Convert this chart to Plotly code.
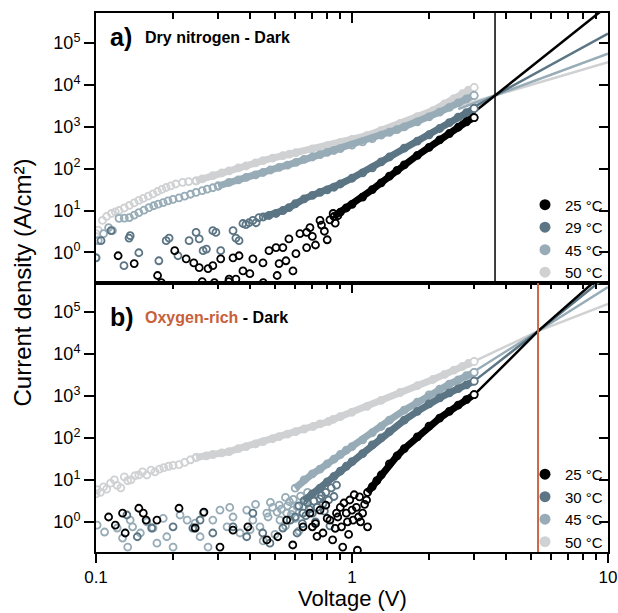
import plotly.graph_objects as go

# ---------------- data : (a) Dry nitrogen - Dark ----------------
top50_sc_V = [0.100, 0.102, 0.106, 0.110, 0.115, 0.119, 0.123, 0.129, 0.135, 0.141, 0.147, 0.153, 0.160, 0.167, 0.174, 0.181, 0.188, 0.196, 0.205, 0.218, 0.23, 0.246]
top50_sc_J = [2.8, 3.4, 5.8, 7.2, 8.5, 9.3, 10, 11.5, 13.2, 15.2, 17.4, 19.5, 22, 25, 28.5, 32, 35.5, 39, 43, 47, 49, 51]
top50_band_V = [0.246, 0.26, 0.286, 0.31, 0.331, 0.36, 0.386, 0.42, 0.449, 0.49, 0.537, 0.57, 0.604, 0.70, 0.80, 0.90, 1.0, 1.14, 1.3, 1.54, 1.8, 2.07, 2.3, 2.5, 2.7, 2.85, 3.0]
top50_band_J = [51, 57, 68, 79, 89, 104, 117, 137, 155, 178, 204, 222, 240, 297, 355, 422, 500, 617, 826, 1200, 1750, 2450, 3550, 4740, 6170, 7520, 8710]

top45_sc_V = [0.100, 0.102, 0.107, 0.112, 0.116, 0.123, 0.129, 0.135, 0.141, 0.147, 0.154, 0.161, 0.168, 0.175, 0.183, 0.191, 0.200, 0.211, 0.222, 0.234, 0.246, 0.26, 0.272, 0.286, 0.30]
top45_sc_J = [0.75, 1.9, 2.8, 3.9, 3.3, 6.5, 6.6, 6.8, 7.8, 8.9, 10.2, 11.7, 13, 14.2, 15.5, 17, 18.5, 20, 22, 24.5, 27, 30, 32.5, 35, 38.5]
top45_band_V = [0.30, 0.331, 0.36, 0.386, 0.42, 0.449, 0.48, 0.519, 0.56, 0.604, 0.65, 0.70, 0.75, 0.80, 0.85, 0.90, 1.0, 1.1, 1.2, 1.3, 1.4, 1.5, 1.6, 1.8, 2.0, 2.2, 2.4, 2.6, 2.8, 3.0]
top45_band_J = [38.5, 47, 54, 62, 71, 81, 93, 107, 122, 141, 166, 190, 216, 245, 272, 302, 367, 437, 525, 631, 741, 861, 1000, 1320, 1720, 2240, 2920, 3720, 4680, 5620]

top29_sc_V = [0.100, 0.1046, 0.1145, 0.1286, 0.1346, 0.136, 0.147, 0.176, 0.188, 0.193, 0.209, 0.231, 0.246, 0.253, 0.262, 0.27, 0.286, 0.294, 0.307, 0.343, 0.352, 0.362, 0.375, 0.385, 0.396, 0.41, 0.422, 0.433]
top29_sc_J = [0.74, 1.9, 3.3, 0.48, 2.2, 2.5, 0.98, 0.63, 1.9, 2.2, 0.83, 1.9, 3.0, 2.1, 1.1, 1.2, 3.3, 3.0, 1.1, 3.3, 2.2, 1.9, 4.9, 4.6, 5.1, 5.8, 5.1, 6.8]
top29_band_V = [0.45, 0.474, 0.505, 0.537, 0.567, 0.60, 0.65, 0.70, 0.75, 0.80, 0.85, 0.90, 1.0, 1.1, 1.2, 1.3, 1.4, 1.6, 1.8, 2.0, 2.2, 2.4, 2.6, 2.8, 3.0]
top29_band_J = [7.0, 7.6, 8.5, 10, 11.7, 14.5, 19, 23, 27, 31, 36, 43, 59, 79, 105, 145, 190, 309, 457, 646, 912, 1260, 1700, 2190, 2750]

top25_sc_V = [0.122, 0.141, 0.174, 0.18, 0.203, 0.225, 0.241, 0.253, 0.26, 0.274, 0.286, 0.29, 0.307, 0.331, 0.33, 0.343, 0.352, 0.362, 0.375, 0.399, 0.41, 0.449, 0.45, 0.474, 0.505, 0.51, 0.519, 0.537, 0.552, 0.567, 0.588, 0.604, 0.626, 0.665, 0.665, 0.685, 0.70, 0.72, 0.75, 0.76, 0.78, 0.80, 0.82, 0.844, 0.86, 0.88]
top25_sc_J = [0.83, 0.54, 0.28, 0.19, 1.1, 0.70, 0.56, 0.43, 0.2, 0.41, 0.48, 0.19, 0.70, 0.23, 0.2, 0.74, 0.23, 0.83, 0.36, 0.31, 0.70, 0.56, 0.19, 1.1, 1.3, 0.28, 0.54, 1.3, 0.63, 2.1, 0.36, 0.93, 2.8, 1.3, 3.0, 3.9, 2.4, 1.5, 5.8, 4.5, 3.2, 2.0, 6.0, 8.5, 5.0, 7.5]
top25_band_V = [0.85, 0.90, 0.95, 1.0, 1.1, 1.2, 1.3, 1.4, 1.5, 1.6, 1.8, 2.0, 2.2, 2.4, 2.6, 2.8, 3.0]
top25_band_J = [7.2, 9.1, 11.5, 14, 21, 31.6, 46, 66, 91, 123, 209, 324, 490, 692, 977, 1320, 1660]

top_fit_V = [2.6, 3.62, 10]
top_fit25_J = [1120, 5620, 7.9e5]
top_fit29_J = [1850, 5620, 1.7e5]
top_fit45_J = [2650, 5620, 5.6e4]
top_fit50_J = [3110, 5620, 3.5e4]
top_cross_V = 3.62

# ---------------- data : (b) Oxygen-rich - Dark ----------------
bot50_sc_V = [0.100, 0.101, 0.104, 0.107, 0.110, 0.114, 0.118, 0.121, 0.125, 0.129, 0.133, 0.137, 0.142, 0.147, 0.152, 0.158, 0.164, 0.170, 0.177, 0.184, 0.192, 0.200, 0.211, 0.222, 0.234, 0.246]
bot50_sc_J = [4.6, 5.8, 5.0, 6.8, 6.0, 8.3, 10, 7.4, 6.4, 11.7, 9.5, 10, 12.5, 13, 15.5, 13, 17, 15.5, 18, 19.5, 21, 22, 23, 26, 30, 34]
bot50_band_V = [0.246, 0.27, 0.286, 0.31, 0.331, 0.36, 0.386, 0.42, 0.449, 0.49, 0.519, 0.56, 0.603, 0.65, 0.705, 0.75, 0.81, 0.844, 0.90, 1.0, 1.146, 1.3, 1.54, 1.8, 2.07, 2.3, 2.5, 2.7, 2.85, 3.0]
bot50_band_J = [34, 37, 40, 44, 47, 55, 62, 72, 81, 95, 107, 123, 141, 162, 186, 214, 245, 275, 320, 407, 562, 776, 1200, 1740, 2450, 3240, 4120, 5010, 5890, 6600]

bot45_sc_V = [0.101, 0.108, 0.121, 0.127, 0.133, 0.136, 0.139, 0.149, 0.158, 0.167, 0.173, 0.183, 0.189, 0.200, 0.213, 0.227, 0.244, 0.255, 0.262, 0.274, 0.286, 0.305, 0.325, 0.333, 0.343, 0.365, 0.388, 0.40, 0.41, 0.42, 0.437, 0.45, 0.465, 0.47, 0.48, 0.49, 0.50, 0.51, 0.52, 0.523, 0.53, 0.55, 0.55, 0.556, 0.56, 0.57, 0.58, 0.587, 0.59, 0.60, 0.61, 0.62, 0.63, 0.64, 0.66, 0.67, 0.69]
bot45_sc_J = [0.83, 0.57, 0.71, 0.41, 0.25, 1.1, 0.76, 0.54, 1.0, 0.71, 0.31, 1.2, 0.44, 0.25, 1.45, 1.1, 0.93, 0.44, 1.6, 0.25, 1.1, 1.9, 0.76, 2.2, 1.3, 0.54, 1.9, 0.65, 1.1, 2.6, 0.76, 0.35, 1.6, 1.3, 2.9, 2.2, 0.5, 1.7, 2.5, 1.1, 2.0, 0.8, 3.8, 1.6, 2.4, 3.0, 1.5, 1.9, 3.4, 1.2, 2.3, 0.6, 4.1, 1.6, 3.0, 5.0, 2.2]
bot45_band_V = [0.60, 0.65, 0.70, 0.75, 0.80, 0.85, 0.90, 0.95, 1.0, 1.1, 1.2, 1.3, 1.4, 1.6, 1.8, 2.0, 2.2, 2.4, 2.6, 2.8, 3.0]
bot45_band_J = [6.3, 10, 13.8, 18, 24, 31, 40, 51, 62, 89, 132, 186, 263, 457, 708, 1050, 1450, 1900, 2400, 3020, 3630]

bot30_sc_V = [0.132, 0.145, 0.165, 0.200, 0.239, 0.255, 0.286, 0.343, 0.388, 0.41, 0.448, 0.478, 0.537, 0.574, 0.60, 0.61, 0.62, 0.64, 0.644, 0.66, 0.67, 0.68, 0.70, 0.71, 0.72, 0.73, 0.75, 0.76, 0.77, 0.78, 0.79, 0.81, 0.82, 0.83, 0.85, 0.87]
bot30_sc_J = [1.45, 0.44, 0.71, 0.76, 0.71, 1.1, 0.54, 0.76, 0.44, 1.6, 0.54, 0.31, 0.71, 1.1, 1.3, 0.54, 2.4, 0.9, 1.6, 1.4, 2.8, 2.0, 1.6, 3.1, 1.0, 2.2, 3.5, 4.2, 2.7, 1.8, 5.0, 3.3, 0.8, 6.4, 4.0, 7.5]
bot30_band_V = [0.65, 0.70, 0.75, 0.80, 0.85, 0.90, 0.95, 1.0, 1.1, 1.2, 1.3, 1.4, 1.6, 1.8, 2.0, 2.2, 2.4, 2.6, 2.8, 3.0]
bot30_band_J = [3.2, 4.6, 6.3, 8.9, 12, 16, 21, 27, 42, 68, 100, 141, 263, 427, 646, 891, 1175, 1480, 1820, 2240]

bot25_sc_V = [0.112, 0.119, 0.127, 0.130, 0.147, 0.153, 0.157, 0.173, 0.211, 0.244, 0.264, 0.305, 0.343, 0.392, 0.465, 0.513, 0.556, 0.587, 0.644, 0.685, 0.70, 0.72, 0.73, 0.75, 0.77, 0.79, 0.80, 0.82, 0.84, 0.86, 0.87, 0.88, 0.90, 0.91, 0.92, 0.93, 0.95, 0.96, 0.97, 0.98, 1.00, 1.01, 1.02, 1.04, 1.05, 1.06, 1.07, 1.08, 1.10, 1.12, 1.14, 1.15]
bot25_sc_J = [1.3, 0.83, 1.6, 0.54, 2.1, 1.6, 1.1, 1.1, 2.1, 0.71, 1.7, 0.25, 0.63, 0.76, 0.37, 0.44, 1.1, 0.28, 0.76, 1.6, 0.76, 0.9, 0.45, 1.9, 0.54, 2.5, 1.2, 1.1, 0.37, 0.7, 1.6, 1.3, 2.2, 0.76, 0.25, 2.8, 1.6, 1.0, 0.5, 3.3, 1.9, 1.1, 4.4, 2.2, 0.21, 1.3, 3.9, 1.0, 1.6, 2.6, 3.3, 0.76]
bot25_band_V = [1.15, 1.2, 1.25, 1.3, 1.4, 1.5, 1.6, 1.8, 2.0, 2.2, 2.4, 2.6, 2.8, 3.0]
bot25_band_J = [5.0, 6.9, 9.5, 13, 24, 37, 55, 105, 190, 295, 427, 603, 813, 1070]

bot_fit_V = [3.0, 5.33, 10]
bot_fit25_J = [1050, 34700, 1.02e6]
bot_fit30_J = [2240, 34700, 7.6e5]
bot_fit45_J = [3800, 34700, 3.9e5]
bot_fit50_J = [6600, 34700, 1.55e5]
bot_cross_V = 5.33

top_labels = ["25 °C", "29 °C", "45 °C", "50 °C"]
bot_labels = ["25 °C", "30 °C", "45 °C", "50 °C"]

y_tickvals = [1, 10, 100, 1e3, 1e4, 1e5]
y_ticktext = ["10<sup>0</sup>", "10<sup>1</sup>", "10<sup>2</sup>", "10<sup>3</sup>", "10<sup>4</sup>", "10<sup>5</sup>"]
x_tickvals = [0.1, 1, 10]
x_ticktext = ["0.1", "1", "10"]
x_minor = [0.2, 0.3, 0.4, 0.5, 0.6, 0.7, 0.8, 0.9, 2, 3, 4, 5, 6, 7, 8, 9]

# ---------------- style ----------------
FONT = "Liberation Sans, Arial, sans-serif"
C25, C29, C45, C50 = "#000000", "#5b7584", "#97acb7", "#cfd1d3"
RED = "#cd6645"
colors = [C25, C29, C45, C50]

fig = go.Figure()


def fit_line(V, J, color, xa, ya):
    fig.add_trace(go.Scatter(x=V, y=J, mode="lines", line=dict(color=color, width=2.5),
                             xaxis=xa, yaxis=ya, showlegend=False, hoverinfo="skip"))


def series(Vs, Js, Vb, Jb, color, xa, ya):
    fig.add_trace(go.Scatter(x=Vb, y=Jb, mode="lines", line=dict(color=color, width=7),
                             xaxis=xa, yaxis=ya, showlegend=False, hoverinfo="skip"))
    fig.add_trace(go.Scatter(x=Vs + Vb, y=Js + Jb, mode="markers",
                             marker=dict(symbol="circle-open", size=7, color=color, line=dict(width=1.8)),
                             xaxis=xa, yaxis=ya, showlegend=False, hoverinfo="skip"))
    fig.add_trace(go.Scatter(x=Vb[-1:], y=Jb[-1:], mode="markers",
                             marker=dict(symbol="circle", size=7, color="white", line=dict(width=1.6, color=color)),
                             xaxis=xa, yaxis=ya, showlegend=False, hoverinfo="skip"))


# top panel
fit_line(top_fit_V, top_fit50_J, C50, "x", "y")
fit_line(top_fit_V, top_fit45_J, C45, "x", "y")
fit_line(top_fit_V, top_fit29_J, C29, "x", "y")
fit_line(top_fit_V, top_fit25_J, C25, "x", "y")
series(top50_sc_V, top50_sc_J, top50_band_V, top50_band_J, C50, "x", "y")
series(top45_sc_V, top45_sc_J, top45_band_V, top45_band_J, C45, "x", "y")
series(top29_sc_V, top29_sc_J, top29_band_V, top29_band_J, C29, "x", "y")
series(top25_sc_V, top25_sc_J, top25_band_V, top25_band_J, C25, "x", "y")
fig.add_trace(go.Scatter(x=[top_cross_V, top_cross_V], y=[0.05, 1e7], mode="lines",
                         line=dict(color="black", width=1.5), xaxis="x", yaxis="y",
                         showlegend=False, hoverinfo="skip"))

# bottom panel
fit_line(bot_fit_V, bot_fit50_J, C50, "x2", "y2")
fit_line(bot_fit_V, bot_fit45_J, C45, "x2", "y2")
fit_line(bot_fit_V, bot_fit30_J, C29, "x2", "y2")
fit_line(bot_fit_V, bot_fit25_J, C25, "x2", "y2")
series(bot50_sc_V, bot50_sc_J, bot50_band_V, bot50_band_J, C50, "x2", "y2")
series(bot45_sc_V, bot45_sc_J, bot45_band_V, bot45_band_J, C45, "x2", "y2")
series(bot30_sc_V, bot30_sc_J, bot30_band_V, bot30_band_J, C29, "x2", "y2")
series(bot25_sc_V, bot25_sc_J, bot25_band_V, bot25_band_J, C25, "x2", "y2")
fig.add_trace(go.Scatter(x=[bot_cross_V, bot_cross_V], y=[0.05, 1e7], mode="lines",
                         line=dict(color=RED, width=2), xaxis="x2", yaxis="y2",
                         showlegend=False, hoverinfo="skip"))

# legend entries
for lab, c in zip(top_labels, colors):
    fig.add_trace(go.Scatter(x=[None], y=[None], mode="markers", name=lab,
                             marker=dict(symbol="circle", size=11, color=c),
                             xaxis="x", yaxis="y", legend="legend"))
for lab, c in zip(bot_labels, colors):
    fig.add_trace(go.Scatter(x=[None], y=[None], mode="markers", name=lab,
                             marker=dict(symbol="circle", size=11, color=c),
                             xaxis="x2", yaxis="y2", legend="legend2"))

# dummy traces so mirror axes get drawn
for xa, ya in [("x3", "y"), ("x", "y3"), ("x4", "y2"), ("x2", "y4")]:
    fig.add_trace(go.Scatter(x=[None], y=[None], xaxis=xa, yaxis=ya, showlegend=False,
                             hoverinfo="skip", mode="markers"))

XR = [-1, 1]
YR_T = [-0.72, 5.72]
YR_B = [-0.72, 5.70]
base = dict(type="log", showline=True, linecolor="black", linewidth=2, showgrid=False,
            zeroline=False, tickcolor="black", tickwidth=2, automargin=False,
            tickfont=dict(size=18, color="black", family=FONT))
minor_out = dict(tickmode="array", tickvals=x_minor, ticks="outside", ticklen=6, tickwidth=1.5, tickcolor="black")
minor_in = dict(tickmode="array", tickvals=x_minor, ticks="inside", ticklen=6, tickwidth=1.5, tickcolor="black")

fig.update_layout(
    width=618, height=613, margin=dict(l=96, r=10, t=13, b=61),
    paper_bgcolor="white", plot_bgcolor="white",
    font=dict(family=FONT, color="black"),
    xaxis=dict(base, domain=[0, 1], anchor="y", range=XR, ticks="", showticklabels=False),
    yaxis=dict(base, domain=[0.5, 1], anchor="x", range=YR_T, ticks="outside", ticklen=10,
               tickmode="array", tickvals=y_tickvals, ticktext=y_ticktext),
    xaxis3=dict(base, overlaying="x", side="top", anchor="y", range=XR, ticks="inside", ticklen=10,
                tickmode="array", tickvals=x_tickvals, showticklabels=False, minor=minor_in),
    yaxis3=dict(base, overlaying="y", side="right", anchor="x", range=YR_T, ticks="inside", ticklen=9,
                tickmode="array", tickvals=y_tickvals, showticklabels=False),
    xaxis2=dict(base, domain=[0, 1], anchor="y2", range=XR, ticks="outside", ticklen=9,
                tickmode="array", tickvals=x_tickvals, ticktext=x_ticktext, minor=minor_out,
                ticklabeloverflow="allow", tickfont=dict(size=17, color="black", family=FONT)),
    yaxis2=dict(base, domain=[0, 0.5], anchor="x2", range=YR_B, ticks="outside", ticklen=10,
                tickmode="array", tickvals=y_tickvals, ticktext=y_ticktext),
    xaxis4=dict(base, overlaying="x2", side="top", anchor="y2", range=XR, ticks="inside", ticklen=10,
                tickmode="array", tickvals=x_tickvals, showticklabels=False, minor=minor_in),
    yaxis4=dict(base, overlaying="y2", side="right", anchor="x2", range=YR_B, ticks="inside", ticklen=9,
                tickmode="array", tickvals=y_tickvals, showticklabels=False),
    legend=dict(x=1, xanchor="right", y=0.489, yanchor="bottom", bgcolor="rgba(0,0,0,0)",
                font=dict(size=15, family=FONT), tracegroupgap=0, itemwidth=30),
    legend2=dict(x=1, xanchor="right", y=-0.011, yanchor="bottom", bgcolor="rgba(0,0,0,0)",
                 font=dict(size=15, family=FONT), tracegroupgap=0, itemwidth=30),
    showlegend=True,
)

ann = [
    dict(text="Current density (A/cm²)", x=-0.1426, y=0.5, textangle=-90, font=dict(size=24)),
    dict(text="Voltage (V)", x=0.5, y=-0.0866, font=dict(size=22)),
    dict(text="<b>a)</b>", x=0.0234, y=0.9555, xanchor="left", font=dict(size=25)),
    dict(text="<b>Dry nitrogen - Dark</b>", x=0.0918, y=0.955, xanchor="left", font=dict(size=16)),
    dict(text="<b>b)</b>", x=0.0234, y=0.436, xanchor="left", font=dict(size=25)),
    dict(text="<b><span style='color:#c8603a'>Oxygen-rich</span> - Dark</b>", x=0.0918, y=0.4355,
         xanchor="left", font=dict(size=16)),
]
for a in ann:
    a.setdefault("xanchor", "center")
    a.update(xref="paper", yref="paper", showarrow=False, yanchor="middle")
    a["font"].update(family=FONT, color="black")
    fig.add_annotation(**a)

fig.write_html("out.html", config={"displayModeBar": False})
